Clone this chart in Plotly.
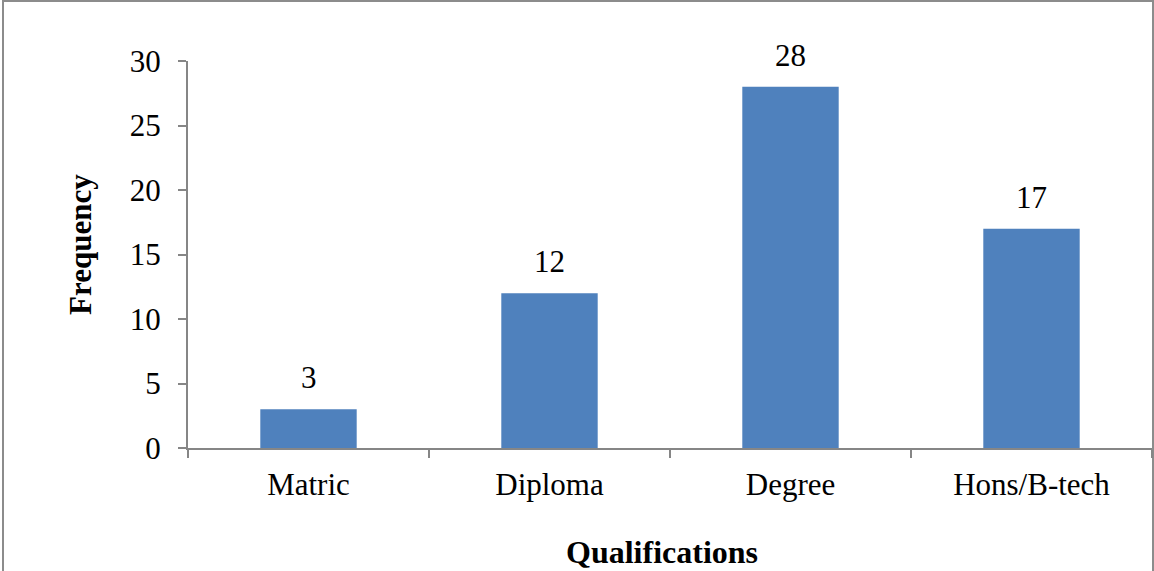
import plotly.graph_objects as go

categories = ["Matric", "Diploma", "Degree", "Hons/B-tech"]
frequency = [3, 12, 28, 17]
y_ticks = [0, 5, 10, 15, 20, 25, 30]

FONT = "Liberation Serif, Times New Roman, serif"
L, R, T, B = 188, 2, 61, 123
W, H = 1154, 571
pw = W - L - R
ph = H - T - B

fig = go.Figure(go.Bar(
    x=categories, y=frequency, width=0.4,
    marker=dict(color="#4F81BD", line=dict(width=0)),
))

for c, v in zip(categories, frequency):
    fig.add_annotation(
        x=c, y=v, xref="x", yref="y", text=str(v), showarrow=False,
        yanchor="bottom", xanchor="center", yshift=12,
        font=dict(family=FONT, size=31, color="#000000"),
    )

fig.update_layout(
    width=W, height=H,
    margin=dict(l=L, r=R, t=T, b=B, autoexpand=False),
    paper_bgcolor="white", plot_bgcolor="white",
    showlegend=False,
    font=dict(family=FONT, size=31, color="#000000"),
    bargap=0.6,
)
fig.update_xaxes(
    showline=True, linecolor="#868686", linewidth=2,
    ticks="outside", ticklen=8, tickcolor="#868686", tickwidth=2,
    tickson="boundaries", showgrid=False,
    tickfont=dict(family=FONT, size=31), ticklabelstandoff=8,
    range=[-0.5, 3.5],
)
fig.update_yaxes(
    range=[0, 30], tickvals=y_ticks,
    showline=True, linecolor="#868686", linewidth=2,
    ticks="outside", ticklen=8, tickcolor="#868686", tickwidth=2,
    showgrid=False, zeroline=False,
    tickfont=dict(family=FONT, size=31), ticklabelstandoff=11,
)

fig.add_annotation(
    text="<b>Frequency</b>", textangle=-90, showarrow=False,
    xref="paper", yref="paper",
    x=(80 - L) / pw, y=(H - B - 245) / ph, xanchor="center", yanchor="middle",
    font=dict(family=FONT, size=31),
)
fig.add_annotation(
    text="<b>Qualifications</b>", showarrow=False,
    xref="paper", yref="paper",
    x=(662 - L) / pw, y=(H - B - 552) / ph, xanchor="center", yanchor="middle",
    font=dict(family=FONT, size=32),
)
fig.add_shape(
    type="rect", xref="paper", yref="paper",
    x0=(3 - L) / pw, x1=(1153 - L) / pw,
    y0=(H - B - 575) / ph, y1=(H - B - 1) / ph,
    line=dict(color="#8C8C8C", width=2), fillcolor="rgba(0,0,0,0)", layer="below",
)

fig.write_html(
    "out.html",
    config={"displayModeBar": False},
    post_script="document.body.style.margin='0';document.body.style.overflow='hidden';",
)
